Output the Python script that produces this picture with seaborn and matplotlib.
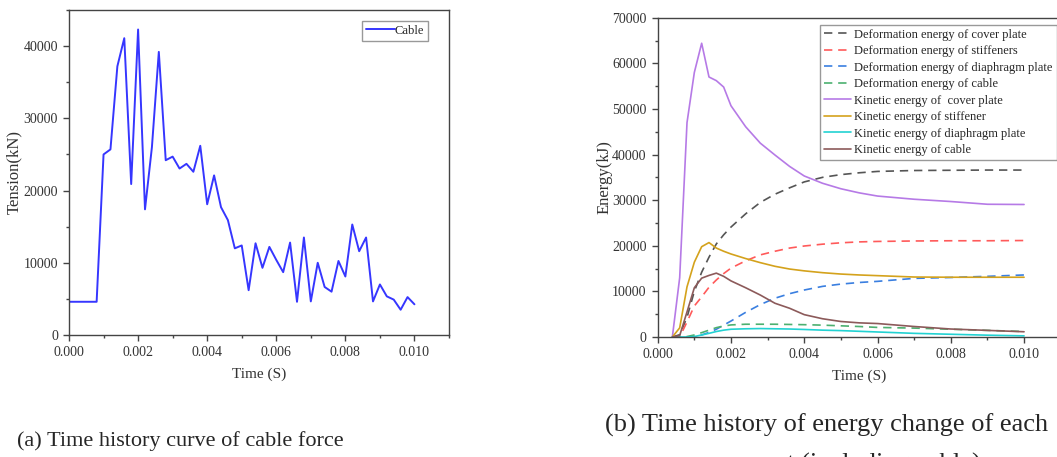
import matplotlib
matplotlib.use("Agg")
import matplotlib.pyplot as plt
from matplotlib.ticker import MultipleLocator, FormatStrFormatter
import seaborn as sns

# (a) cable force, every 0.0002 s
t_a = [i * 0.0002 for i in range(51)]
tension = [4600, 4600, 4600, 4600, 4600, 25000, 25700, 37200, 41100, 20900,
           42300, 17400, 26000, 39200, 24200, 24700, 23050, 23700, 22600, 26200,
           18100, 22100, 17700, 15900, 12000, 12400, 6200, 12700, 9300, 12200,
           10400, 8700, 12800, 4600, 13500, 4650, 10000, 6650, 6000, 10250,
           8100, 15300, 11600, 13500, 4650, 7000, 5350, 4900, 3500, 5250, 4250]

# (b) energy curves
t_b = [0.0004, 0.0006, 0.0008, 0.001, 0.0012, 0.0014, 0.0016, 0.0018, 0.002,
       0.0024, 0.0028, 0.0032, 0.0036, 0.004, 0.0045, 0.005, 0.0055, 0.006,
       0.007, 0.008, 0.009, 0.010]
def_cover = [0, 500, 4300, 10000, 14200, 17500, 20400, 22400, 24100, 27000, 29500,
             31300, 32700, 34000, 35000, 35600, 36000, 36300, 36500, 36550, 36600, 36600]
def_stiff = [0, 0, 3300, 6800, 8800, 10900, 12500, 13900, 15100, 16700, 18000,
             18800, 19500, 19950, 20350, 20650, 20850, 20950, 21050, 21100, 21100, 21150]
def_diaph = [0, 0, 0, 100, 450, 1000, 1700, 2600, 3500, 5400, 7100,
             8500, 9500, 10300, 11100, 11600, 11950, 12200, 12850, 13050, 13300, 13600]
def_cable = [0, 0, 100, 450, 950, 1500, 2050, 2400, 2650, 2800, 2800,
             2800, 2750, 2700, 2600, 2450, 2300, 2100, 1950, 1700, 1450, 1200]
kin_cover = [0, 13000, 47000, 58000, 64400, 57000, 56200, 54800, 50700, 46100, 42500,
             39900, 37400, 35300, 33700, 32500, 31600, 30900, 30200, 29700, 29100, 29050]
kin_stiff = [0, 2000, 11000, 16400, 19800, 20700, 19500, 18800, 18200, 17200, 16300,
             15500, 14900, 14500, 14100, 13800, 13600, 13450, 13150, 13100, 13100, 13100]
kin_diaph = [0, 0, 0, 100, 440, 800, 1200, 1500, 1700, 1800, 1850,
             1800, 1750, 1650, 1500, 1400, 1250, 1100, 800, 600, 400, 250]
kin_cable = [0, 300, 5500, 10800, 12900, 13500, 14000, 13300, 12300, 10800, 9200,
             7400, 6300, 4900, 4000, 3400, 3100, 2950, 2300, 1750, 1450, 1150]

labels_b = ["Deformation energy of cover plate", "Deformation energy of stiffeners",
            "Deformation energy of diaphragm plate", "Deformation energy of cable",
            "Kinetic energy of  cover plate", "Kinetic energy of stiffener",
            "Kinetic energy of diaphragm plate", "Kinetic energy of cable"]
series_b = [def_cover, def_stiff, def_diaph, def_cable,
            kin_cover, kin_stiff, kin_diaph, kin_cable]
colors_b = ["#555555", "#ff5a5a", "#3a7fe0", "#4cb070",
            "#b67ae6", "#d4a21c", "#22d2d2", "#8c5a5a"]
styles_b = ["--", "--", "--", "--", "-", "-", "-", "-"]

sns.set_style("ticks")
plt.rcParams["font.family"] = ["Liberation Serif", "DejaVu Serif"]
plt.rcParams["xtick.direction"] = "out"
plt.rcParams["ytick.direction"] = "out"

fig = plt.figure(figsize=(10.57, 4.57), dpi=100)
W, H = 1057, 457
ax1 = fig.add_axes([69 / W, 1 - 335 / H, 380 / W, 325 / H])
ax2 = fig.add_axes([657.7 / W, 1 - 337 / H, 403 / W, 319.3 / H])

tc = "#333333"
for ax in (ax1, ax2):
    for s in ax.spines.values():
        s.set_color("#444444")
        s.set_linewidth(1.0)
    ax.tick_params(which="major", length=4.5, width=1, color="#444444",
                   labelsize=10, labelcolor=tc, right=False, top=False)
    ax.tick_params(which="minor", length=2.5, width=1, color="#444444",
                   right=False, top=False)
    ax.xaxis.set_major_locator(MultipleLocator(0.002))
    ax.xaxis.set_minor_locator(MultipleLocator(0.001))
    ax.xaxis.set_major_formatter(FormatStrFormatter("%.3f"))
    ax.set_xlim(0, 0.011)
    ax.set_xlabel("Time (S)", fontsize=11, color=tc, labelpad=6)

# (a)
sns.lineplot(x=t_a, y=tension, ax=ax1, color="#3636ff", linewidth=1.4, label="Cable")
ax1.set_ylim(0, 45000)
ax1.yaxis.set_major_locator(MultipleLocator(10000))
ax1.yaxis.set_minor_locator(MultipleLocator(5000))
ax1.set_ylabel("Tension(kN)", fontsize=12, color=tc, labelpad=1)
ax1.legend(loc="upper right", bbox_to_anchor=(0.945, 0.966), fontsize=9,
           frameon=True, fancybox=False, edgecolor="#999999", framealpha=1,
           handlelength=2.3, handletextpad=0.0, borderpad=0.3, borderaxespad=0)

# (b)
for y, lab, c, ls in zip(series_b, labels_b, colors_b, styles_b):
    sns.lineplot(x=t_b, y=y, ax=ax2, color=c, linestyle=ls, linewidth=1.2,
                 label=lab)
for ln, ls in zip(ax2.get_lines(), styles_b):
    if ls == "--":
        ln.set_dashes((5, 3.5))
ax2.set_ylim(0, 70000)
ax2.yaxis.set_major_locator(MultipleLocator(10000))
ax2.yaxis.set_minor_locator(MultipleLocator(5000))
ax2.set_ylabel("Energy(kJ)", fontsize=12, color=tc, labelpad=0)
ax2.legend(loc="upper left", bbox_to_anchor=(0.403, 0.977), fontsize=9,
           frameon=True, fancybox=False, edgecolor="#999999", framealpha=1,
           handlelength=2.2, handletextpad=0.25, labelspacing=0.36,
           borderpad=0.3, borderaxespad=0)

fig.text(17 / W, 1 - 446 / H, "(a) Time history curve of cable force",
         fontsize=16, ha="left", va="baseline")
fig.text(605 / W, 1 - 432 / H, "(b) Time history of energy change of each",
         fontsize=19, ha="left", va="baseline")
fig.text(677 / W, 1 - 471 / H, "component (including cable)",
         fontsize=19, ha="left", va="baseline")

fig.savefig("out.png", dpi=100)
